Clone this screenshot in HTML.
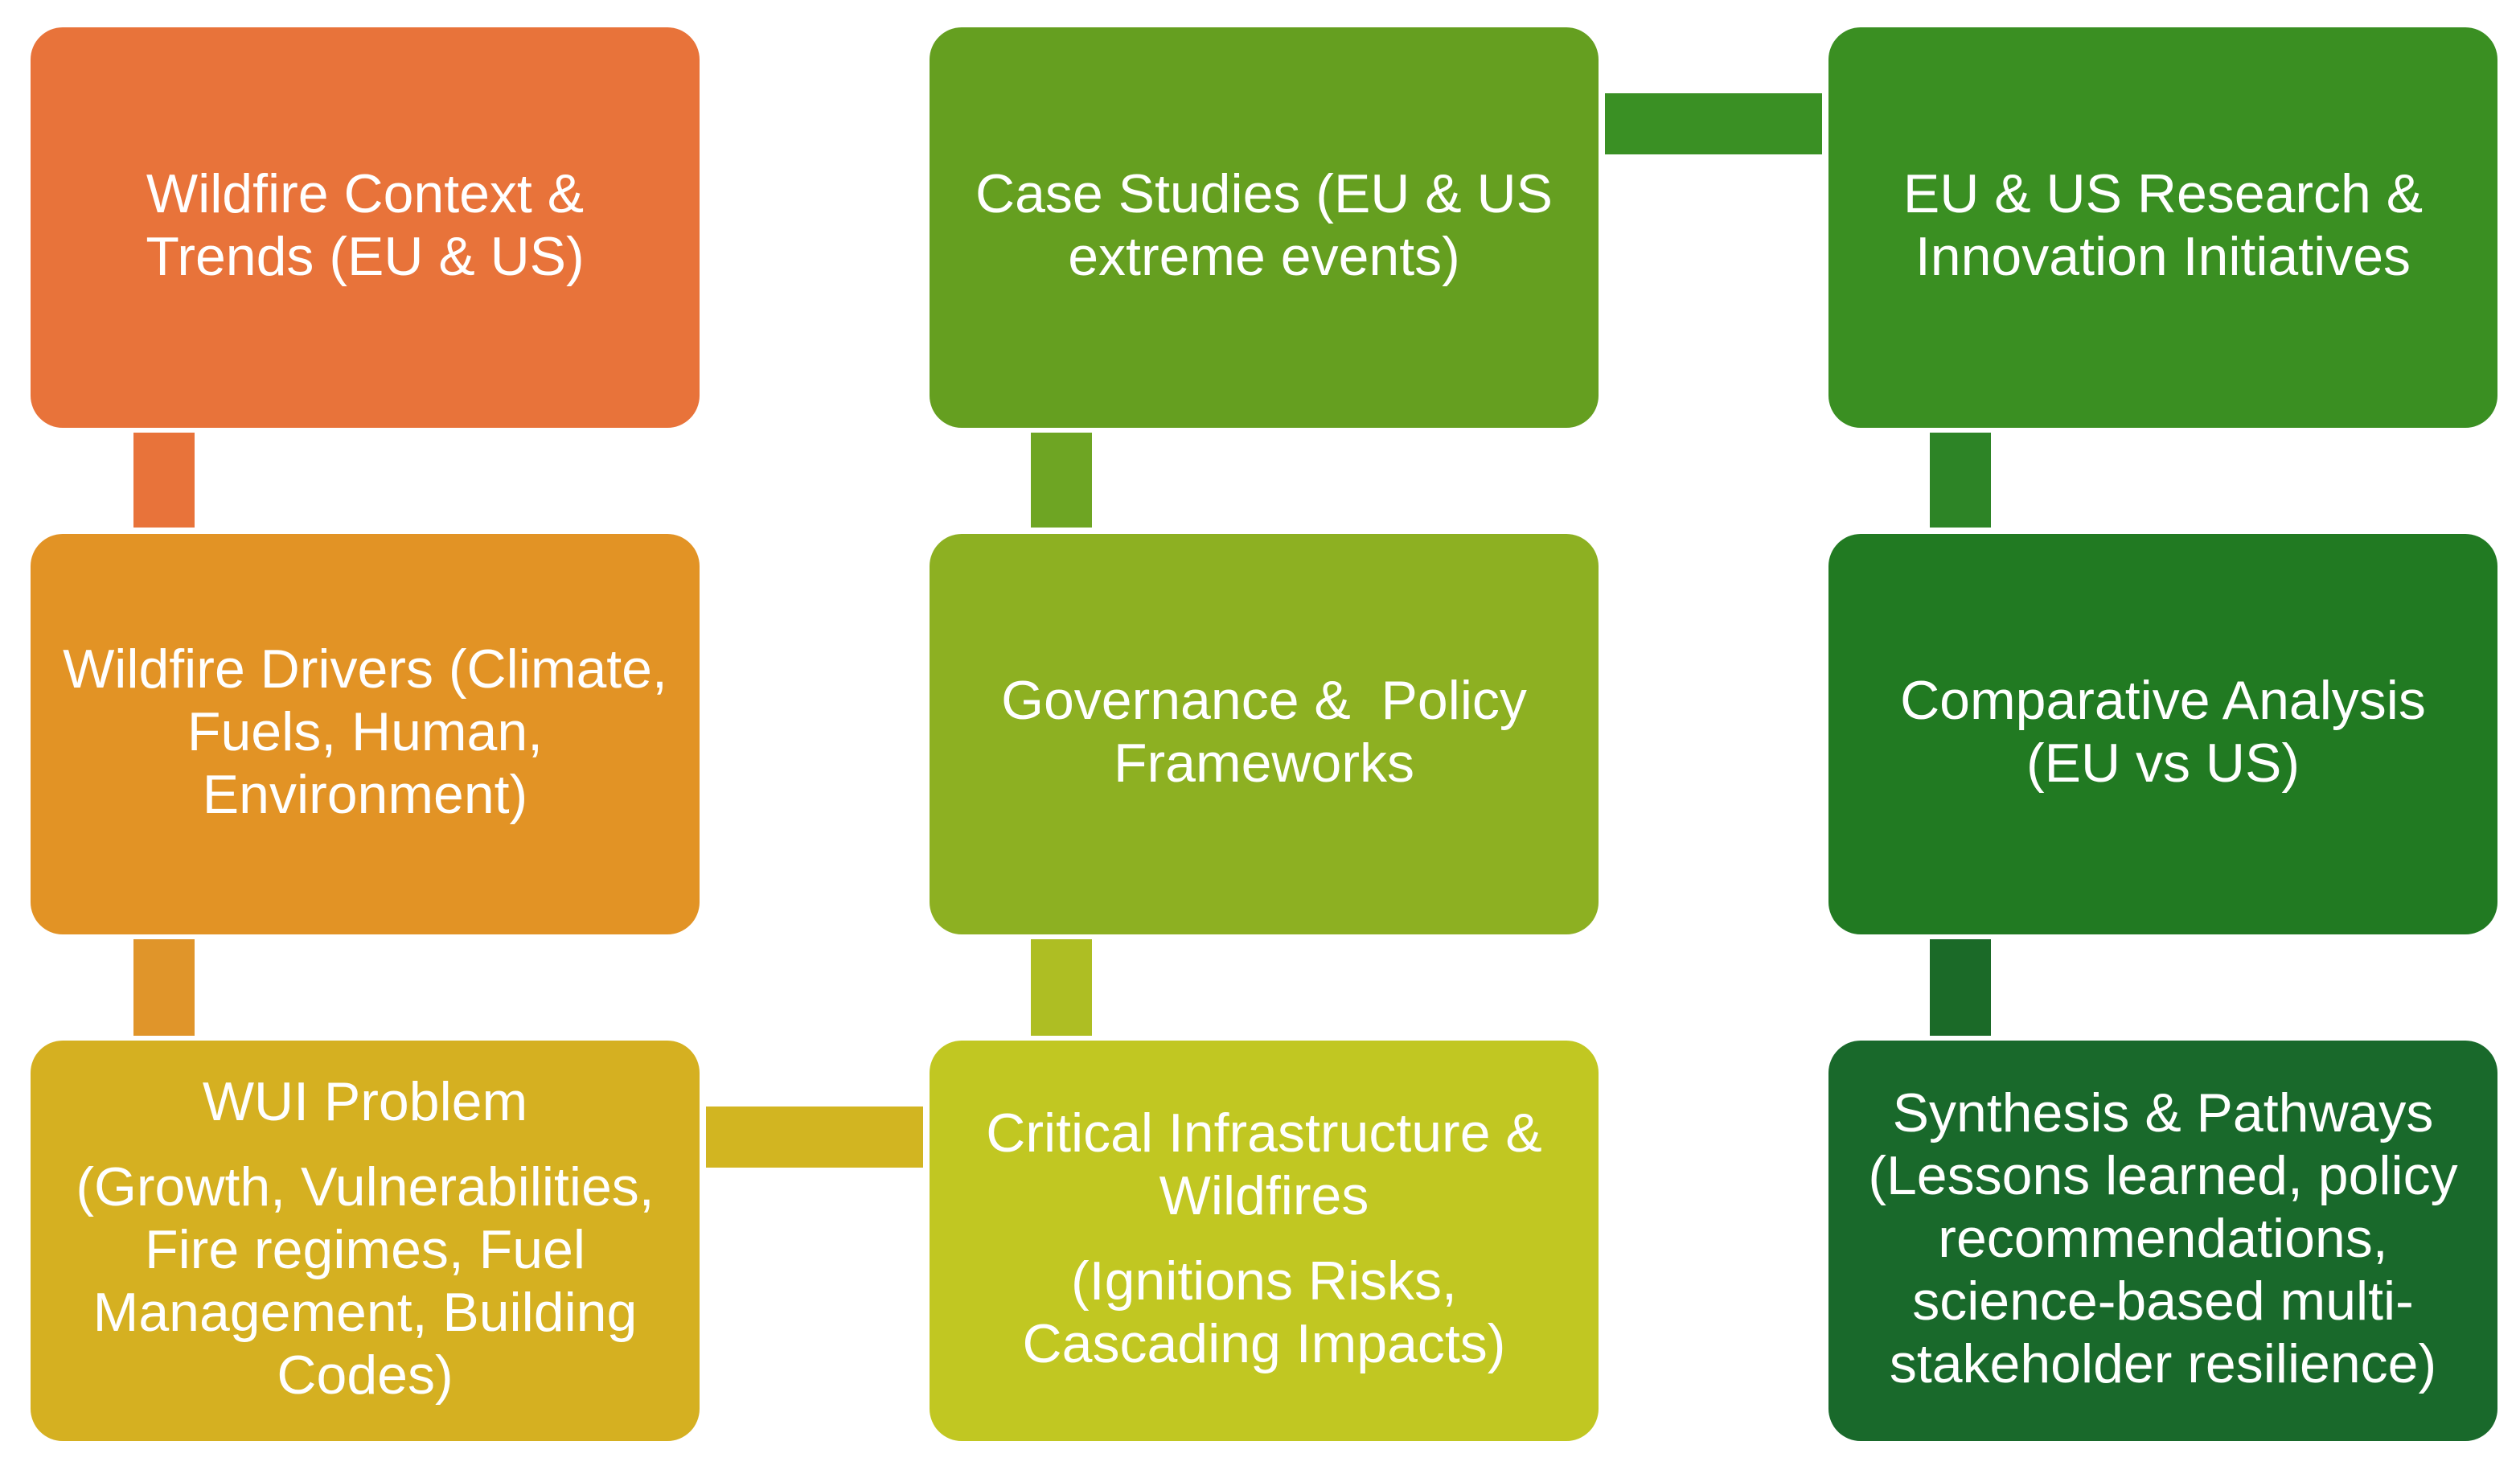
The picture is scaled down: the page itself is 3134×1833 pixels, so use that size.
<!DOCTYPE html>
<html><head><meta charset="utf-8"><style>
html,body{margin:0;padding:0;background:#fff;}
body{width:3134px;height:1833px;position:relative;overflow:hidden;font-family:"Liberation Sans",sans-serif;}
.b{position:absolute;width:832px;height:492px;padding-bottom:6px;border-radius:40px;display:flex;flex-direction:column;justify-content:center;align-items:center;text-align:center;color:#fff;font-size:68px;line-height:78px;}
.b p{margin:0;white-space:nowrap;}
.b p+p{margin-top:28px;}
.c{position:absolute;}
</style></head><body>
<div class="c" style="left:166px;top:538px;width:76px;height:118px;background:#E8733A"></div>
<div class="c" style="left:166px;top:1168px;width:76px;height:120px;background:#E0952A"></div>
<div class="c" style="left:1282px;top:538px;width:76px;height:118px;background:#6EA523"></div>
<div class="c" style="left:1282px;top:1168px;width:76px;height:120px;background:#AEBE23"></div>
<div class="c" style="left:2400px;top:538px;width:76px;height:118px;background:#2D8426"></div>
<div class="c" style="left:2400px;top:1168px;width:76px;height:120px;background:#1B6A28"></div>
<div class="c" style="left:1996px;top:116px;width:270px;height:76px;background:#3A9024"></div>
<div class="c" style="left:878px;top:1376px;width:270px;height:76px;background:#D2B521"></div>

<div class="b" style="left:38px;top:34px;background:#E8733A"><p>Wildfire Context &amp;<br>Trends (EU &amp; US)</p></div>
<div class="b" style="left:38px;top:664px;background:#E29325"><p>Wildfire Drivers (Climate,<br>Fuels, Human,<br>Environment)</p></div>
<div class="b" style="left:38px;top:1294px;background:#D5B021"><p>WUI Problem</p><p>(Growth, Vulnerabilities,<br>Fire regimes, Fuel<br>Management, Building<br>Codes)</p></div>

<div class="b" style="left:1156px;top:34px;background:#659F20"><p>Case Studies (EU &amp; US<br>extreme events)</p></div>
<div class="b" style="left:1156px;top:664px;background:#8DB022"><p>Governance &amp;&nbsp; Policy<br>Frameworks</p></div>
<div class="b" style="left:1156px;top:1294px;background:#C1C722"><p>Critical Infrastructure &amp;<br>Wildfires</p><p>(Ignitions Risks,<br>Cascading Impacts)</p></div>

<div class="b" style="left:2274px;top:34px;background:#3A8F22"><p>EU &amp; US Research &amp;<br>Innovation Initiatives</p></div>
<div class="b" style="left:2274px;top:664px;background:#217A22"><p>Comparative Analysis<br>(EU vs US)</p></div>
<div class="b" style="left:2274px;top:1294px;background:#19692B"><p>Synthesis &amp; Pathways<br>(Lessons learned, policy<br>recommendations,<br>science-based multi-<br>stakeholder resilience)</p></div>
</body></html>
